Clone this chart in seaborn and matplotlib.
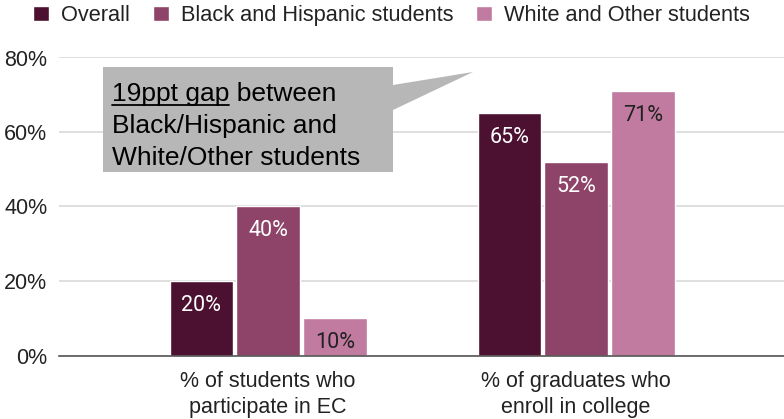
import matplotlib
matplotlib.use('Agg')
import matplotlib.pyplot as plt
import numpy as np
import pandas as pd
import seaborn as sns
from matplotlib.patches import Polygon

# chart data
metrics = ['% of students who\nparticipate in EC', '% of graduates who\nenroll in college']
groups = ['Overall', 'Black and Hispanic students', 'White and Other students']
overall = [20, 65]
black_hispanic = [40, 52]
white_other = [10, 71]
colors = ['#4c1130', '#8e4468', '#c27ba0']
label_colors = ['white', 'white', '#212121']
y_ticks = [0, 20, 40, 60, 80]

df = pd.DataFrame({
    'metric': metrics * 3,
    'group': np.repeat(groups, len(metrics)),
    'value': overall + black_hispanic + white_other,
})

sns.set_style('white')
plt.rcParams['font.family'] = ['Liberation Sans', 'DejaVu Sans']

W, H = 784, 419
fig = plt.figure(figsize=(W / 100, H / 100), dpi=100)
ax = fig.add_axes([59 / W, (H - 355.5) / H, (W - 59) / W, (355.5 - 57.5) / H])

sns.barplot(data=df, x='metric', y='value', hue='group', palette=colors,
            width=0.65, gap=0.045, saturation=1, ax=ax, legend=True, zorder=3)

ax.set_ylim(0, 80)
ax.set_xlim(-0.679, 1.675)
ax.set_yticks(y_ticks)
ax.set_yticklabels(['{}%'.format(t) for t in y_ticks], fontsize=15.5, color='#222222')
ax.tick_params(axis='x', labelsize=15.5, colors='#222222', length=0, pad=11)
ax.tick_params(axis='y', length=0, pad=8.5)
for lbl in ax.get_xticklabels():
    lbl.set_linespacing(1.35)
ax.set_xlabel('')
ax.set_ylabel('')
ax.yaxis.grid(True, color='#d9d9d9', linewidth=1.2, zorder=0)
for s in ['top', 'right', 'left']:
    ax.spines[s].set_visible(False)
ax.spines['bottom'].set_color('#555555')
ax.spines['bottom'].set_linewidth(1.2)
ax.spines['bottom'].set_zorder(4)

# bar labels inside near the top
for cont, lc in zip(ax.containers, label_colors):
    ax.bar_label(cont, labels=['{:.0f}%'.format(v) for v in cont.datavalues],
                 padding=-25, color=lc, fontsize=15.5, family='Roboto', zorder=5)

# legend along the top
handles, labels = ax.get_legend_handles_labels()
ax.legend(handles, labels, loc='center left', bbox_to_anchor=(33 / W, 1 - 15.5 / H),
          bbox_transform=fig.transFigure, ncol=3, frameon=False, fontsize=15.7,
          handlelength=0.73, handleheight=0.73, handletextpad=0.55,
          columnspacing=1.06, borderpad=0, borderaxespad=0, labelcolor='#222222')

# callout box
def px(x, y):
    return (x / W, 1 - y / H)

callout = [px(103, 67), px(393, 67), px(393, 85), px(473, 72), px(393, 110),
           px(393, 172), px(103, 172)]
fig.patches.append(Polygon(callout, closed=True, transform=fig.transFigure,
                           facecolor='#b7b7b7', edgecolor='none', zorder=10))

fs = 19
lines = ['19ppt gap between', 'Black/Hispanic and', 'White/Other students']
baselines = [101, 133, 165]
for line, by in zip(lines, baselines):
    fig.text(*px(112, by), line, fontsize=fs, color='black', va='baseline',
             ha='left', zorder=11)

# underline "19ppt gap"
fig.canvas.draw()
tmp = fig.text(*px(112, 101), '19ppt gap', fontsize=fs, va='baseline', ha='left', alpha=0)
bb = tmp.get_window_extent(renderer=fig.canvas.get_renderer())
uy = 1 - 105 / H
fig.add_artist(plt.Line2D([bb.x0 / W, bb.x1 / W], [uy, uy], transform=fig.transFigure,
                          color='black', linewidth=1.3, zorder=11))

fig.savefig('out.png', dpi=100)
